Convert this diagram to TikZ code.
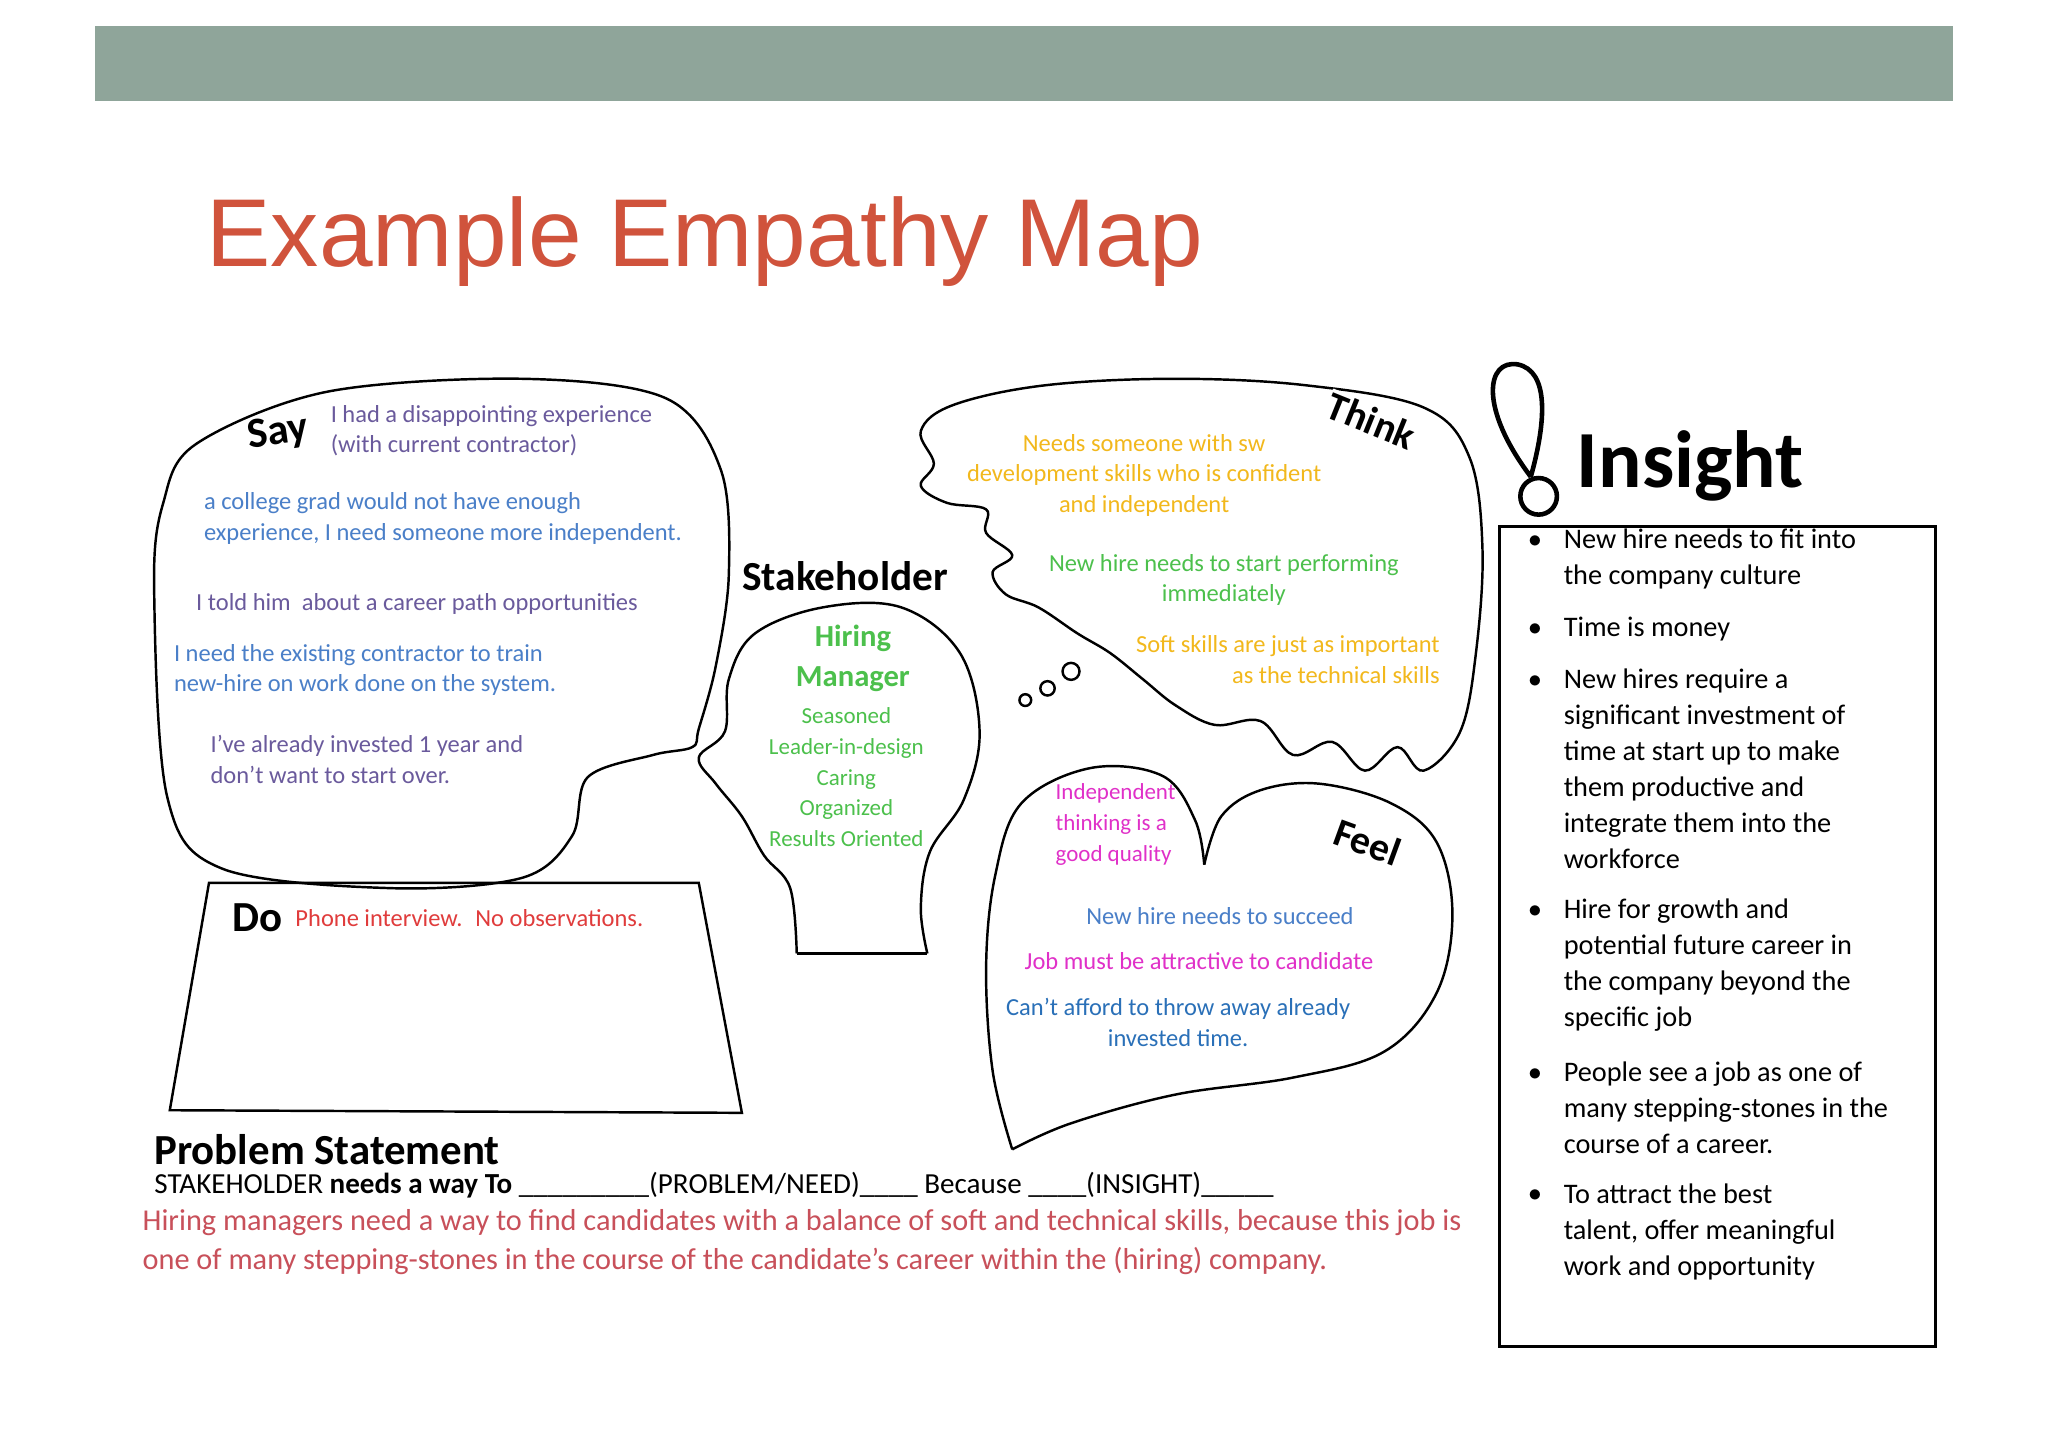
\documentclass[tikz,border=0pt]{standalone}
\usepackage{fontspec}
\setmainfont{Carlito}
\newfontfamily\titlefont{Liberation Sans}
\begin{document}
\begin{tikzpicture}[x=0.03cm,y=-0.03cm,
 outl/.style={line width=1.6pt,black},
 txt/.style={font=\fontsize{16}{20}\selectfont,align=left,inner sep=0pt},
 ctxt/.style={font=\fontsize{16}{20}\selectfont,align=center,inner sep=0pt},
 lbl/.style={font=\fontsize{30}{34}\selectfont\bfseries,inner sep=0pt}]
\definecolor{bar}{HTML}{8FA59A}
\definecolor{ttl}{HTML}{D0533C}
\definecolor{sayc}{HTML}{6A5A9C}
\definecolor{blu}{HTML}{4A7FC8}
\definecolor{ylw}{HTML}{F2B81C}
\definecolor{grn}{HTML}{4CC04C}
\definecolor{pnk}{HTML}{E030C8}
\definecolor{dblu}{HTML}{2A70B8}
\definecolor{red1}{HTML}{E03C3C}
\definecolor{prb}{HTML}{C8505A}
\useasboundingbox[fill=white] (0,0) rectangle (1568,1107);
\fill[bar] (73,20) rectangle (1495,77);
\node[anchor=west,text=ttl,font=\titlefont\fontsize{63}{66}\selectfont,inner sep=0pt] (title) at (158,185) {Example Empathy Map};
% Say bubble
\draw[outl] plot[smooth cycle,tension=0.55] coordinates {(150,340)(250,300)(400,290)(510,305)(552,360)(558,440)(548,510)(535,558)(530,572)(500,578)(450,595)(438,640)(400,672)(300,680)(170,665)(128,610)(118,450)(125,385)};
\node[lbl,font=\fontsize{28}{30}\selectfont\bfseries,rotate=8] (say) at (213,332) {Say};
\node[txt,text=sayc,anchor=north west] (s1) at (253,310) {I had a disappointing experience\\(with current contractor)};
\node[txt,text=blu,anchor=north west] (s2) at (156,377) {a college grad would not have enough\\experience, I need someone more independent.};
\node[txt,text=sayc,anchor=north west] (s3) at (150,454) {I told him \ about a career path opportunities};
\node[txt,text=blu,anchor=north west] (s4) at (133,493) {I need the existing contractor to train\\new-hire on work done on the system.};
\node[txt,text=sayc,anchor=north west] (s5) at (161,563) {I've already invested 1 year and\\don't want to start over.};
% Head
\draw[outl] plot[smooth,tension=0.6] coordinates {(610,730)(605,680)(585,655)(568,625)(548,600)(535,580)(555,560)(558,520)(578,485)(630,465)(690,465)(735,500)(750,560)(738,612)(712,652)(705,695)(710,730)};
\draw[outl] (610,730) -- (710,730);
\node[lbl,font=\fontsize{27}{30}\selectfont\bfseries] (stake) at (647,441) {Stakeholder};
\node[ctxt,text=grn,font=\fontsize{20}{26}\selectfont\bfseries] (hm) at (653,504) {Hiring\\Manager};
\node[ctxt,text=grn,font=\fontsize{15}{20}\selectfont] (hmt) at (648,595) {Seasoned\\Leader-in-design\\Caring\\Organized\\Results Oriented};
% Think cloud
\draw[outl] plot[smooth cycle,tension=0.6] coordinates {(730,310)(800,295)(900,290)(1000,295)(1090,312)(1125,350)(1135,420)(1130,500)(1118,560)(1090,590)(1070,572)(1045,590)(1020,568)(990,578)(965,552)(930,555)(900,540)(875,520)(850,500)(825,485)(795,465)(770,455)(760,438)(775,425)(755,408)(755,390)(725,385)(705,372)(715,355)(705,330)};
\draw[outl] (785,536) circle (4.5) (802,527) circle (5.5) (820,514) circle (6.5);
\node[lbl,rotate=-22,font=\fontsize{26}{30}\selectfont\bfseries,fill=white,inner sep=1pt] (think) at (1050,322) {Think};
\node[ctxt,text=ylw] (t1) at (876,364) {Needs someone with sw\\development skills who is confident\\and independent};
\node[ctxt,text=grn] (t2) at (937,444) {New hire needs to start performing\\immediately};
\node[ctxt,text=ylw,align=right] (t3) at (986,505) {Soft skills are just as important\\as the technical skills};
% Feel heart
\draw[outl] plot[smooth,tension=0.6] coordinates {(775,880)(760,820)(755,740)(762,670)(782,615)(835,588)(890,594)(915,628)(922,662)};
\draw[outl] plot[smooth,tension=0.6] coordinates {(922,662)(935,625)(965,605)(1010,600)(1065,615)(1100,645)(1112,700)(1100,760)(1060,805)(990,825)(900,838)(820,860)(775,880)};
\node[lbl,rotate=-20,font=\fontsize{26}{30}\selectfont\bfseries,fill=white,inner sep=1pt] (feel) at (1047,645) {Feel};
\node[txt,text=pnk,anchor=north west,font=\fontsize{15}{20}\selectfont] (f1) at (808,600) {Independent\\thinking is a\\good quality};
\node[ctxt,text=blu] (f2) at (934,701) {New hire needs to succeed};
\node[ctxt,text=pnk] (f3) at (918,736) {Job must be attractive to candidate};
\node[ctxt,text=dblu] (f4) at (902,783) {Can't afford to throw away already\\invested time.};
% Do
\draw[outl] (160,676) -- (535,676) -- (568,852) -- (130,850) -- cycle;
\node[lbl,font=\fontsize{28}{30}\selectfont\bfseries] (do) at (197,703) {Do};
\node[txt,text=red1,anchor=west] (d1) at (226,703) {Phone interview. \ No observations.};
% Problem statement
\node[anchor=west,inner sep=0pt,font=\fontsize{28}{30}\selectfont\bfseries] (ps) at (118,880) {Problem Statement};
\node[anchor=west,inner sep=0pt,font=\fontsize{19}{22}\selectfont] (ps2) at (118,907) {STAKEHOLDER \textbf{needs a way To} \_\_\_\_\_\_\_\_\_(PROBLEM/NEED)\_\_\_\_ Because \_\_\_\_(INSIGHT)\_\_\_\_\_};
\node[anchor=north west,inner sep=0pt,align=left,text=prb,font=\fontsize{19.8}{25}\selectfont] (ps3) at (109,926) {Hiring managers need a way to find candidates with a balance of soft and technical skills, because this job is\\one of many stepping-stones in the course of the candidate's career within the (hiring) company.};
% Insight
\draw[line width=3pt] (1172,365) .. controls (1132,312) and (1138,275) .. (1162,279) .. controls (1186,284) and (1184,322) .. (1172,365);
\draw[line width=3pt] (1178,380) circle (14);
\node[anchor=west,inner sep=0pt,font=\fontsize{53}{55}\selectfont\bfseries] (ins) at (1207,357) {Insight};
\draw[outl] (1148,403) rectangle (1482,1031);
\foreach \y/\t in {405/{New hire needs to fit into\\the company culture},472/{Time is money},512/{New hires require a\\significant investment of\\time at start up to make\\them productive and\\integrate them into the\\workforce},688/{Hire for growth and\\potential future career in\\the company beyond the\\specific job},813/{People see a job as one of\\many stepping-stones in the\\course of a career.},906/{To attract the best\\talent, offer meaningful\\work and opportunity}}{
 \node[anchor=north west,inner sep=0pt,font=\fontsize{18.5}{23.5}\selectfont] at (1170,\y+5) {$\bullet$};
 \node[anchor=north west,inner sep=0pt,align=left,font=\fontsize{18.5}{23.5}\selectfont] at (1197,\y) {\t};
}
\end{tikzpicture}
\end{document}
